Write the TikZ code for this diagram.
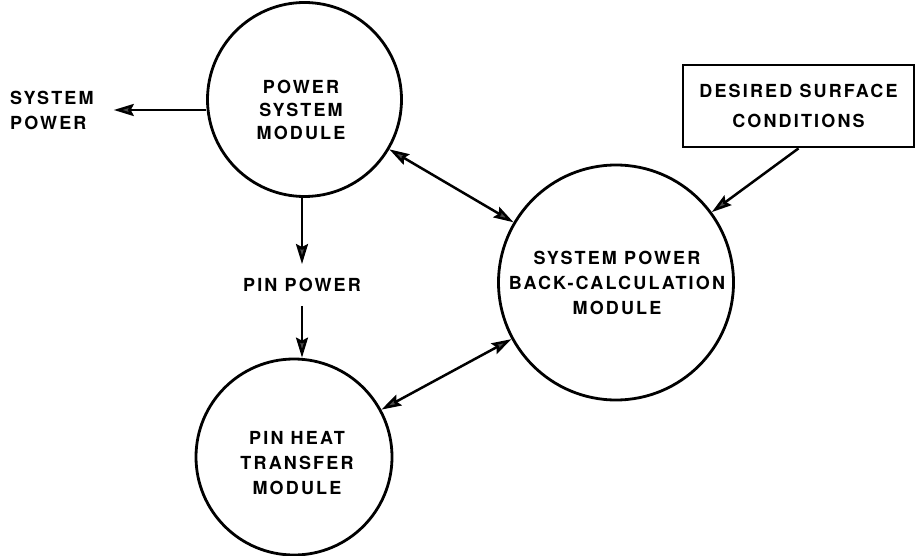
\documentclass[tikz,border=0pt]{standalone}
\usepackage{fontspec}
\setmainfont{TeX Gyre Heros}[LetterSpace=12]
\usetikzlibrary{arrows.meta}
\begin{document}
\begin{tikzpicture}[x=1pt,y=-1pt,
  mod/.style={circle, draw, line width=2.8pt, inner sep=0pt},
  txt/.style={font=\bfseries\fontsize{18}{25}\selectfont, align=center, inner sep=0pt},
  head/.tip={Stealth[length=20pt,width=12pt,inset=3pt,fill=black!70]},
  arr/.style={-head, line width=2.5pt},
  darr/.style={head-head, line width=2.5pt}]
\useasboundingbox (0,0) rectangle (917,556);

% the three modules
\node[mod, minimum size=194pt] (A) at (304.5,99.5) {};
\node[txt, font=\bfseries\fontsize{18}{23}\selectfont] (Atxt) at (301,110) {POWER\\SYSTEM\\MODULE};
\node[mod, minimum size=235pt] (B) at (616,282.5) {};
\node[txt] (Btxt) at (617,283) {SYSTEM POWER\\BACK-CALCULATION\\MODULE};
\node[mod, minimum size=196pt] (C) at (294,457) {};
\node[txt] (Ctxt) at (297,463) {PIN HEAT\\TRANSFER\\MODULE};

% input box
\node[txt, font=\bfseries\fontsize{18}{30}\selectfont, draw, line width=2.8pt,
      minimum width=231pt, minimum height=82pt] (box) at (798.5,106) {DESIRED SURFACE\\CONDITIONS};

% free labels
\node[txt, align=left, anchor=west] (sp) at (10,110) {SYSTEM\\POWER};
\node[txt, inner ysep=14pt] (pp) at (302,285) {PIN POWER};

% flows
\draw[arr, shorten >=20pt] (sp.east -| A.west) -- (sp.east);
\draw[arr] (A.south -| pp) -- (pp.north);
\draw[arr] (pp.south) -- (C.north -| pp);
\draw[darr] (A) -- (B);
\draw[darr] (C) -- (B);
\draw[arr] (box.south) -- (B);
\end{tikzpicture}
\end{document}
